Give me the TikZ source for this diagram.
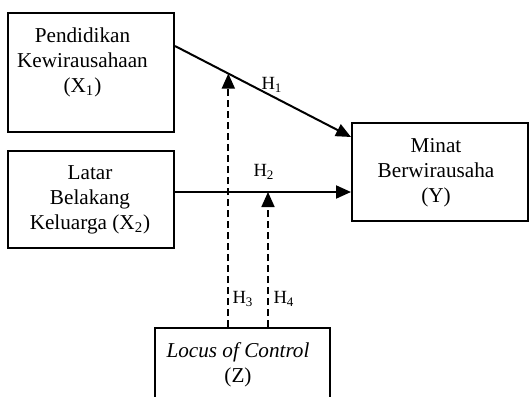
\documentclass[tikz,border=0pt]{standalone}
\usepackage{fontspec}
\setmainfont{Liberation Serif}
\usetikzlibrary{arrows.meta,calc}
\tikzset{
  boxnode/.style={draw=black, line width=1pt, rectangle, inner sep=0pt},
  txt/.style={align=center, font=\fontsize{10.6pt}{12.5pt}\selectfont, inner sep=0pt},
  hlab/.style={font=\fontsize{9.3pt}{10pt}\selectfont, inner sep=0pt},
  solidarrow/.style={line width=1pt, -{Triangle[length=7.5pt,width=6.5pt]}},
  dasharrow/.style={line width=0.85pt, dash pattern=on 3.5pt off 2pt, -{Triangle[length=7.5pt,width=6.5pt]}}
}
\begin{document}
\begin{tikzpicture}[x=0.5pt,y=-0.5pt]
\useasboundingbox (0,0) rectangle (529,396);
\clip (0,0) rectangle (529,396);
% boxes
\node[boxnode, minimum width=83pt, minimum height=59.5pt] (x1) at (91,72.5) {};
\node[boxnode, minimum width=83pt, minimum height=48.5pt] (x2) at (91,199.5) {};
\node[boxnode, minimum width=88pt, minimum height=49pt] (yb) at (440,172) {};
\node[boxnode, minimum width=87.5pt, minimum height=42pt] (zb) at (242.5,370) {};
% texts
\node[txt] (x1t) at (82.5,62.5) {Pendidikan\\Kewirausahaan\\(X\textsubscript{1})};
\node[txt] (x2t) at (90,199.5) {Latar\\Belakang\\Keluarga (X\textsubscript{2})};
\node[txt] (yt) at (436,173) {Minat\\Berwirausaha\\(Y)};
\node[txt] (zt) at (238,365) {\textit{Locus of Control}\\(Z)};
% connectors
\coordinate (a1) at ($(x1.north east)+(0,34)$);
\coordinate (b1) at ($(yb.north west)+(0,15)$);
\draw[solidarrow] (a1) -- (b1);
\coordinate (a2) at (x2.east |- 0,192);
\coordinate (b2) at (yb.west |- 0,192);
\draw[solidarrow] (a2) -- (b2);
\coordinate (m1) at ($(a1)!0.303!(b1)$);
\coordinate (z1) at (zb.north -| m1);
\draw[dasharrow] (z1) -- (m1);
\coordinate (m2) at (268,192);
\coordinate (z2) at (zb.north -| m2);
\draw[dasharrow] (z2) -- (m2);
% labels
\node[hlab] (h1) at (272,85) {H\textsubscript{1}};
\node[hlab] (h2) at (264,172) {H\textsubscript{2}};
\node[hlab] (h3) at (243,299) {H\textsubscript{3}};
\node[hlab] (h4) at (284,299) {H\textsubscript{4}};
\end{tikzpicture}
\end{document}
